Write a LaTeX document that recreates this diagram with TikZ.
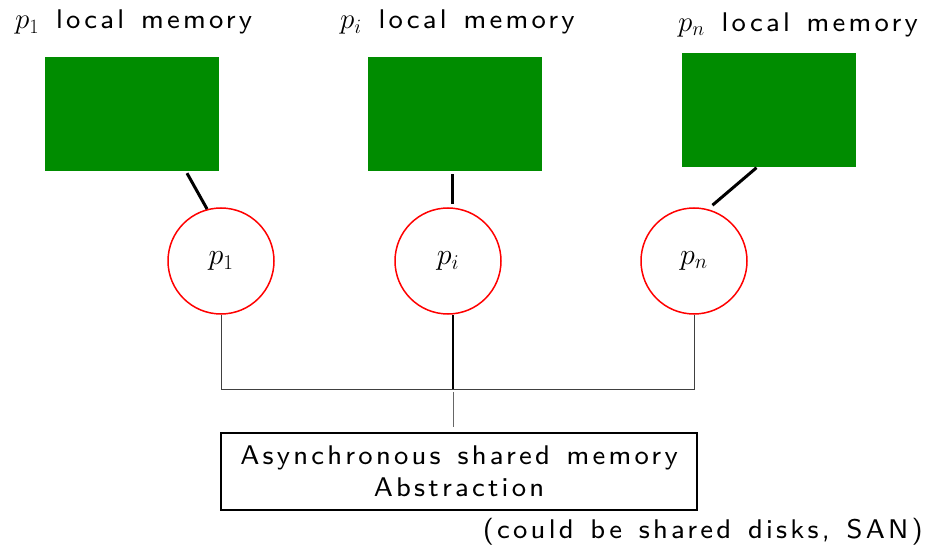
\documentclass[tikz,border=0pt]{standalone}
% let the math italic and digit fonts scale freely
\DeclareFontShape{OML}{cmm}{m}{it}{<-6>cmmi5<6-7>cmmi6<7-8>cmmi7<8-9>cmmi8<9-10>cmmi9<10-12>cmmi10<12->cmmi12}{}
\DeclareFontShape{OT1}{cmr}{m}{n}{<-6>cmr5<6-7>cmr6<7-8>cmr7<8-9>cmr8<9-10>cmr9<10-12>cmr10<12-17>cmr12<17->cmr17}{}
\definecolor{memgreen}{RGB}{0,140,0}
% wide, lightly tracked small-design sans with roomier word spaces
\font\widesans="[lmsans8-regular.otf]:letterspace=12" at 27pt
\fontdimen2\widesans=\dimexpr\fontdimen2\widesans+4pt\relax
\tikzset{
  memblock/.style={fill=memgreen, draw=none, minimum width=174pt, minimum height=114pt, inner sep=0pt},
  proc/.style={circle, draw=red, line width=1.5pt, minimum size=106pt, inner sep=0pt, font=\fontsize{30}{34}\selectfont},
  lbl/.style={font=\fontsize{29}{34}\selectfont\widesans, inner sep=0pt},
  link/.style={line width=3pt},
  bus/.style={draw=black!75, line width=1pt},
  absbox/.style={draw, line width=2.5pt, minimum width=476pt, minimum height=77pt, inner sep=0pt, align=center, font=\fontsize{27}{32}\selectfont\widesans}
}
\begin{document}
\begin{tikzpicture}[x=1pt, y=-1pt]
\useasboundingbox (0,0) rectangle (943,548);

% local memories
\node[memblock] (mem1) at (132,114) {};
\node[memblock] (memi) at (455,114) {};
\node[memblock] (memn) at (768.5,110.5) {};

\node[lbl, anchor=base west] (lab1) at (15,29) {$p_1$ local memory};
\node[lbl, anchor=base west] (labi) at (340,29) {$p_i$ local memory};
\node[lbl, anchor=base west] (labn) at (678,32) {$p_n$ local memory};

% processes
\node[proc] (p1) at (221,261) {$p_1$};
\node[proc] (pi) at (448,261) {$p_i$};
\node[proc] (pn) at (694,261) {$p_n$};

% memory links
\draw[link] ([xshift=55pt,yshift=-2pt]mem1.south) -- (p1.105);
\draw[link] ([xshift=-3pt,yshift=-3pt]memi.south) -- ([xshift=4pt,yshift=3pt]pi.north);
\draw[link, shorten >=6pt] ([xshift=-12pt]memn.south) -- (pn.75);

% shared bus
\coordinate (busy) at (0,389);
\draw[bus] (p1.south) -- (p1.south |- busy) -- (pn.south |- busy) -- (pn.south);
\draw[line width=1.3pt] ([xshift=5pt]pi.south) -- ([xshift=5pt]pi.south |- busy);

% abstraction
\node[absbox] (box) at (459,471.5) {Asynchronous shared memory\\Abstraction};
\coordinate (drop) at (453,392);
\draw[draw=black!60, line width=1pt] (drop) -- ([yshift=5pt]drop |- box.north);

\node[lbl, anchor=base east] (note) at (923,538) {(could be shared disks, SAN)};
\end{tikzpicture}
\end{document}
